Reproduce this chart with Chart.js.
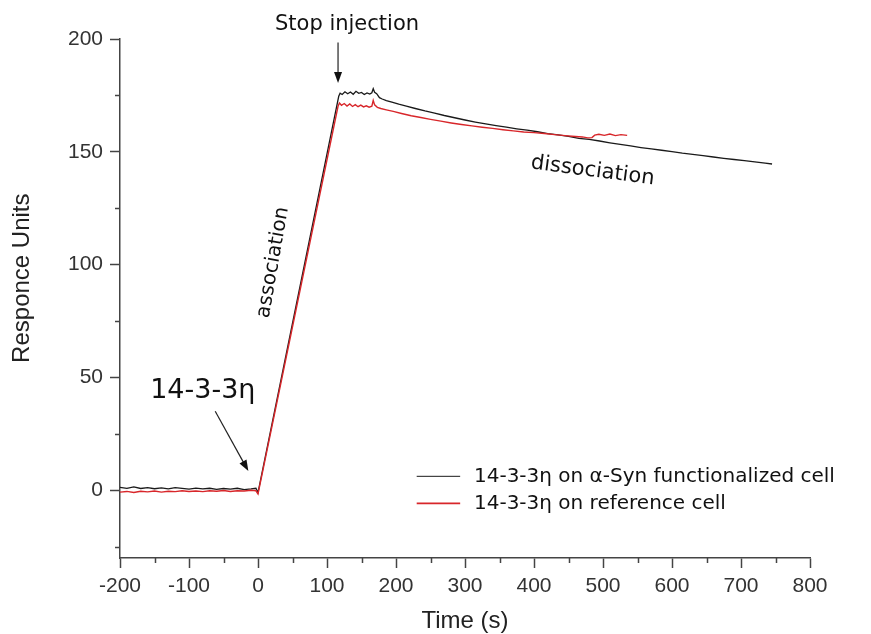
<!DOCTYPE html>
<html>
<head>
<meta charset="utf-8">
<title>14-3-3η SPR sensorgram</title>
<script src="https://cdn.jsdelivr.net/npm/chart.js@4"></script>
<style>
  html, body { margin: 0; padding: 0; background: #fff; }
  #wrap { width: 871px; height: 634px; position: relative; }
</style>
</head>
<body>
<div id="wrap"><canvas id="spr"></canvas></div>
<script>
// Sensorgram traces (time in s, response in RU)
const synTime = [-200, -190, -180, -170, -160, -150, -140, -130, -120, -110, -100, -90, -80, -70, -60, -50, -40, -30, -20, -10, -3, 0,
  117, 119, 122, 126, 130, 134, 138, 142, 146, 150, 154, 158, 162, 165, 167, 169, 172, 176, 180, 186, 194, 204, 215,
  228, 242, 256, 270, 285, 300, 315, 330, 345, 360, 375, 390, 405, 420, 435, 450, 465, 480, 495, 510, 525, 540, 555,
  570, 585, 600, 615, 630, 645, 660, 675, 690, 705, 720, 735, 745];
const synValues = [1.3, 0.9, 1.5, 0.8, 1.2, 0.7, 1.1, 0.6, 1.2, 0.9, 0.5, 1.0, 0.6, 0.9, 0.4, 0.8, 0.5, 0.9, 0.3, 0.6, 0.9, -1.0,
  174.6, 176.0, 175.4, 176.6, 175.7, 176.5, 175.5, 176.8, 175.9, 176.3, 175.4, 176.1, 175.6, 176.2, 178.0, 176.4, 175.8, 174.0, 173.4, 172.7, 172.0, 171.1, 170.2,
  169.2, 168.1, 167.2, 166.1, 165.1, 164.1, 163.2, 162.4, 161.6, 160.9, 160.2, 159.6, 158.9, 158.1, 157.5, 156.8, 156.0, 155.5, 154.8, 154.0, 153.3, 152.6, 151.9,
  151.3, 150.7, 150.1, 149.4, 148.9, 148.3, 147.7, 147.1, 146.6, 146.1, 145.5, 145.0, 144.6];

const refTime = [-200, -190, -180, -170, -160, -150, -140, -130, -120, -110, -100, -90, -80, -70, -60, -50, -40, -30, -20, -10, -3, 0,
  116, 118, 121, 125, 129, 133, 137, 141, 145, 149, 153, 157, 161, 165, 167, 169, 173, 178, 186, 196, 208, 222,
  236, 250, 265, 280, 295, 310, 325, 340, 355, 370, 385, 400, 415, 430, 445, 460, 470, 478, 484, 488, 494, 502, 510, 518, 526, 535];
const refValues = [-0.8, -0.5, -1.0, -0.4, -0.7, -0.3, -0.8, -0.4, -0.6, -0.2, -0.5, -0.3, -0.6, -0.2, -0.4, -0.1, -0.5, -0.2, -0.3, 0.0, -0.2, -1.6,
  170.2, 171.6, 170.6, 171.4, 170.3, 171.2, 170.1, 170.9, 170.0, 170.7, 169.9, 170.4, 169.8, 170.2, 172.8, 170.8, 169.7, 169.2, 168.6, 167.9, 167.0, 166.0,
  165.2, 164.4, 163.6, 162.8, 162.1, 161.5, 160.9, 160.4, 159.8, 159.3, 158.8, 158.5, 158.1, 157.6, 157.2, 156.8, 156.6, 156.2, 156.3, 157.4, 157.8, 157.3, 157.9, 157.2, 157.6, 157.3];

const seriesNames = ['14-3-3η on α-Syn functionalized cell', '14-3-3η on reference cell'];
const seriesColors = ['#1a1a1a', '#d8262a'];

const xTicks = [-200, -100, 0, 100, 200, 300, 400, 500, 600, 700, 800];
const yTicks = [0, 50, 100, 150, 200];
const xMinor = [-150, -50, 50, 150, 250, 350, 450, 550, 650, 750];
const yMinor = [-25, 25, 75, 125, 175];

const AXIS = '#444';
const SANS = '"Liberation Sans", Arial, sans-serif';
const VERD = '"DejaVu Sans", Verdana, sans-serif';

const toPoints = (ts, vs) => ts.map((t, i) => ({ x: t, y: vs[i] }));

// short minor tick marks, y title, annotations and legend, drawn after the chart
const extras = {
  id: 'extras',
  afterDraw(chart) {
    const { ctx, scales: { x, y } } = chart;
    const bottom = chart.chartArea.bottom, left = chart.chartArea.left;
    ctx.save();
    ctx.strokeStyle = AXIS;
    ctx.lineWidth = 1.5;
    ctx.beginPath();
    xMinor.forEach(v => {
      const px = Math.round(x.getPixelForValue(v)) + 0.5;
      ctx.moveTo(px, bottom); ctx.lineTo(px, bottom + 5);
    });
    yMinor.forEach(v => {
      const py = Math.round(y.getPixelForValue(v)) + 0.5;
      ctx.moveTo(left, py); ctx.lineTo(left - 5, py);
    });
    ctx.stroke();

    // y axis title sits a bit above the middle of the axis
    ctx.save();
    ctx.translate(22, y.getPixelForValue(94));
    ctx.rotate(-Math.PI / 2);
    ctx.font = '24px ' + SANS;
    ctx.fillStyle = '#222';
    ctx.textAlign = 'center';
    ctx.textBaseline = 'middle';
    ctx.fillText('Responce Units', 0, 0);
    ctx.restore();

    const arrow = (x0, y0, x1, y1) => {
      const a = [x.getPixelForValue(x0), y.getPixelForValue(y0)];
      const b = [x.getPixelForValue(x1), y.getPixelForValue(y1)];
      const ang = Math.atan2(b[1] - a[1], b[0] - a[0]);
      ctx.strokeStyle = '#222';
      ctx.fillStyle = '#111';
      ctx.lineWidth = 1.2;
      ctx.beginPath();
      ctx.moveTo(a[0], a[1]);
      ctx.lineTo(b[0] - 8 * Math.cos(ang), b[1] - 8 * Math.sin(ang));
      ctx.stroke();
      ctx.beginPath();
      ctx.moveTo(b[0], b[1]);
      ctx.lineTo(b[0] - 11 * Math.cos(ang) + 4 * Math.sin(ang), b[1] - 11 * Math.sin(ang) - 4 * Math.cos(ang));
      ctx.lineTo(b[0] - 11 * Math.cos(ang) - 4 * Math.sin(ang), b[1] - 11 * Math.sin(ang) + 4 * Math.cos(ang));
      ctx.closePath();
      ctx.fill();
    };

    const label = (text, tx, ty, font, rot) => {
      ctx.save();
      ctx.translate(x.getPixelForValue(tx), y.getPixelForValue(ty));
      ctx.rotate((rot || 0) * Math.PI / 180);
      ctx.font = font;
      ctx.fillStyle = '#111';
      ctx.textAlign = 'center';
      ctx.textBaseline = 'middle';
      ctx.fillText(text, 0, 0);
      ctx.restore();
    };

    label('Stop injection', 129, 206.6, '21px ' + VERD);
    arrow(116, 198.5, 116, 180.5);
    label('14-3-3η', -80, 44, '27px ' + VERD);
    arrow(-62, 35, -14, 8.5);
    label('association', 22, 101, '20px ' + VERD, -80);
    label('dissociation', 485, 141.5, '21px ' + VERD, 7.5);

    // legend
    const legY = [6.2, -5.8];
    chart.data.datasets.forEach((ds, i) => {
      const py = y.getPixelForValue(legY[i]);
      ctx.strokeStyle = ds.borderColor;
      ctx.lineWidth = i === 0 ? 1 : 1.6;
      ctx.beginPath();
      ctx.moveTo(x.getPixelForValue(230), py);
      ctx.lineTo(x.getPixelForValue(293), py);
      ctx.stroke();
      ctx.font = '20px ' + VERD;
      ctx.fillStyle = '#111';
      ctx.textAlign = 'left';
      ctx.textBaseline = 'middle';
      ctx.fillText(ds.label, x.getPixelForValue(313), py);
    });
    ctx.restore();
  }
};

new Chart(document.getElementById('spr'), {
  type: 'line',
  data: {
    datasets: [
      { label: seriesNames[0], data: toPoints(synTime, synValues), borderColor: seriesColors[0], borderWidth: 1.3, order: 2 },
      { label: seriesNames[1], data: toPoints(refTime, refValues), borderColor: seriesColors[1], borderWidth: 1.4, order: 1 }
    ]
  },
  options: {
    responsive: true,
    maintainAspectRatio: false,
    animation: false,
    elements: { point: { radius: 0 }, line: { tension: 0 } },
    layout: { padding: { top: 39, right: 61, left: 0, bottom: 0 } },
    plugins: { legend: { display: false }, tooltip: { enabled: false } },
    scales: {
      x: {
        type: 'linear',
        min: -200, max: 800,
        afterBuildTicks: s => { s.ticks = xTicks.map(v => ({ value: v })); },
        afterFit: s => { s.height = 76; },
        border: { color: AXIS, width: 1.5 },
        grid: { drawOnChartArea: false, tickLength: 10, tickColor: AXIS, tickWidth: 1.5 },
        ticks: { color: '#333', padding: 6, font: { family: SANS, size: 21 }, maxRotation: 0 },
        title: { display: true, text: 'Time (s)', color: '#222', padding: { top: 0, bottom: -2 }, font: { family: SANS, size: 24 } }
      },
      y: {
        type: 'linear',
        min: -30, max: 200,
        afterBuildTicks: s => { s.ticks = yTicks.map(v => ({ value: v })); },
        afterFit: s => { s.width = 120; },
        border: { color: AXIS, width: 1.5 },
        grid: { drawOnChartArea: false, tickLength: 10, tickColor: AXIS, tickWidth: 1.5 },
        ticks: { color: '#333', padding: 7, font: { family: SANS, size: 21 } }
      }
    }
  },
  plugins: [extras]
});
</script>
</body>
</html>
